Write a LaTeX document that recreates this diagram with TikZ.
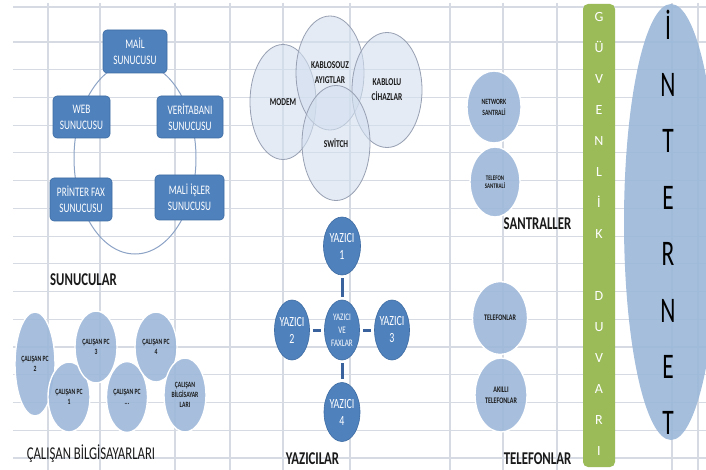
\documentclass[tikz,border=0pt]{standalone}
\usepackage{fontspec}
\newfontfamily\cf{Carlito}[FakeStretch=0.71]
\newfontfamily\cfi{Carlito}[FakeStretch=0.65]
\newfontfamily\cfg{Carlito}
\usetikzlibrary{shapes.geometric}
\definecolor{gridc}{HTML}{D5DAE3}
\definecolor{boxblue}{HTML}{4F81BD}
\definecolor{boxedge}{HTML}{3E6CA3}
\definecolor{ringc}{HTML}{8CA3C6}
\definecolor{lightblue}{HTML}{9BB7D9}
\definecolor{vennfill}{HTML}{D3DFEF}
\definecolor{vennedge}{HTML}{98A1B3}
\definecolor{fwgreen}{HTML}{9BBB59}
\definecolor{linkc}{HTML}{3A629C}
\definecolor{txt}{HTML}{1A1A1A}
\begin{document}
\begin{tikzpicture}[x=1pt,y=-1pt,
 gridline/.style={draw=gridc, line width=1.1pt},
 srvbox/.style={rectangle, rounded corners=4pt, fill=boxblue, draw=boxedge, line width=0.6pt, text=white, align=center, inner sep=0pt, font=\cf\fontsize{13}{16}\selectfont},
 ring/.style={draw=ringc, line width=1pt},
 pcell/.style={ellipse, fill=lightblue, fill opacity=0.88, text opacity=1, draw=white, line width=1.4pt, inner sep=0pt, align=center, text=txt, font=\cf\bfseries\fontsize{8}{10}\selectfont},
 venn/.style={ellipse, fill=vennfill, fill opacity=0.6, text opacity=1, draw=vennedge, line width=0.8pt, inner sep=0pt, align=center, text=txt, font=\cf\bfseries\fontsize{10.5}{15}\selectfont},
 prn/.style={ellipse, fill=boxblue, draw=boxedge, line width=0.6pt, inner sep=-2pt, align=center, text=white},
 link/.style={draw=linkc, line width=3pt, shorten >=3pt, shorten <=3pt},
 grouplabel/.style={text=txt, inner sep=0pt, font=\cf\bfseries\fontsize{18}{18}\selectfont},
 fwletter/.style={text=white, inner sep=0pt, anchor=base, font=\cfg\fontsize{14}{14}\selectfont},
 netletter/.style={text=black, inner sep=0pt, anchor=base, font=\cfi\fontsize{36}{36}\selectfont},
]
\useasboundingbox (0,0) rectangle (706,470);
\clip (0,0) rectangle (706,470);
\fill[white] (0,0) rectangle (706,470);
% grid
\draw[gridline] (13,7) -- (706,7);
\foreach \k in {0,...,15} \draw[gridline] (13,{42+27.73*\k}) -- (706,{42+27.73*\k});
\foreach \x in {48,100,175,230,283,350,450,503,557,672,698} \draw[gridline] (\x,3) -- (\x,470);

% servers
\draw[ring] (135,158) ellipse [x radius=61, y radius=96];
\node[srvbox, minimum width=64pt, minimum height=43pt] (mail) at (135,51.5) {MAİL\\SUNUCUSU};
\node[srvbox, minimum width=57pt, minimum height=42pt] (web) at (81.5,117) {WEB\\SUNUCUSU};
\node[srvbox, minimum width=66pt, minimum height=42pt] (db) at (190,117) {VERİTABANI\\SUNUCUSU};
\node[srvbox, minimum width=62pt, minimum height=43pt] (fax) at (81,199.5) {PRİNTER FAX\\SUNUCUSU};
\node[srvbox, minimum width=69pt, minimum height=45pt] (fin) at (189.5,197.5) {MALİ İŞLER\\SUNUCUSU};
\node[grouplabel] (lsrv) at (83.5,280) {SUNUCULAR};

% employee PCs
\node[pcell, minimum width=40pt, minimum height=104pt] (pc2) at (35,364) {ÇALIŞAN PC\\2};
\node[pcell, minimum width=42pt, minimum height=70pt] (pc1) at (69,397) {ÇALIŞAN PC\\1};
\node[pcell, minimum width=42pt, minimum height=72pt] (pc3) at (96,347) {ÇALIŞAN PC\\3};
\node[pcell, minimum width=41pt, minimum height=71pt] (pcn) at (127,397) {ÇALIŞAN PC\\...};
\node[pcell, minimum width=42pt, minimum height=70pt] (pc4) at (156,347) {ÇALIŞAN PC\\4};
\node[pcell, minimum width=42pt, minimum height=74pt] (pcall) at (185,395) {ÇALIŞAN\\BİLGİSAYAR\\LARI};
\node[grouplabel, font=\cf\fontsize{18}{18}\selectfont] (lpc) at (91,454) {ÇALIŞAN BİLGİSAYARLARI};

% network venn
\node[venn, minimum width=66pt, minimum height=115pt] (modem) at (283,102) {MODEM};
\node[venn, minimum width=68pt, minimum height=114pt] (wifi) at (330,73) {KABLOSOUZ\\AYIGTLAR};
\node[venn, minimum width=70pt, minimum height=115pt] (wired) at (387,90) {KABLOLU\\CİHAZLAR};
\node[venn, minimum width=68pt, minimum height=115pt] (switch) at (336,143) {SWİTCH};

% printers
\node[prn, minimum width=37pt, minimum height=58pt, font=\cf\fontsize{14}{17}\selectfont] (p1) at (342,246) {YAZICI\\1};
\node[prn, minimum width=35pt, minimum height=60pt, font=\cf\fontsize{10}{13}\selectfont] (pc) at (342,330) {YAZICI\\VE\\FAXLAR};
\node[prn, minimum width=35pt, minimum height=60pt, font=\cf\fontsize{14}{17}\selectfont] (p2) at (292,330) {YAZICI\\2};
\node[prn, minimum width=35pt, minimum height=60pt, font=\cf\fontsize{14}{17}\selectfont] (p3) at (392,330) {YAZICI\\3};
\node[prn, minimum width=36pt, minimum height=59pt, font=\cf\fontsize{14}{17}\selectfont] (p4) at (342,412) {YAZICI\\4};
\draw[link] (p1) -- (pc);
\draw[link] (p2) -- (pc);
\draw[link] (p3) -- (pc);
\draw[link] (p4) -- (pc);
\node[grouplabel] (lprn) at (312.5,459) {YAZICILAR};

% switchboards
\node[pcell, minimum width=54pt, minimum height=72pt, font=\cf\bfseries\fontsize{8}{11}\selectfont] (netsw) at (494,107) {NETWORK\\SANTRALİ};
\node[pcell, minimum width=50pt, minimum height=70pt, font=\cf\bfseries\fontsize{7}{8.5}\selectfont] (telsw) at (495,182) {TELEFON\\SANTRALİ};
\node[grouplabel] (lsw) at (537.5,224) {SANTRALLER};

% phones
\node[pcell, minimum width=55pt, minimum height=73pt, font=\cf\bfseries\fontsize{8.5}{11}\selectfont] (tel) at (500,318) {TELEFONLAR};
\node[pcell, minimum width=52pt, minimum height=74pt, font=\cf\bfseries\fontsize{8.5}{11}\selectfont] (smart) at (501,395) {AKILLI\\TELEFONLAR};
\node[grouplabel] (ltel) at (537.5,458.5) {TELEFONLAR};

% firewall
\node[rectangle, rounded corners=5pt, fill=fwgreen, minimum width=32pt, minimum height=463pt, inner sep=0pt] (fw) at (599,235.5) {};
\foreach \l [count=\i from 0] in {G,Ü,V,E,N,L,İ,K}
  \node[fwletter] (fwa\i) at (599,{21.5+31*\i}) {\l};
\foreach \l [count=\i from 0] in {D,U,V,A,R,I}
  \node[fwletter] (fwb\i) at (599,{300.5+31*\i}) {\l};

% internet
\node[ellipse, fill=lightblue, fill opacity=0.9, minimum width=94pt, minimum height=436pt, inner sep=0pt] (inet) at (671,222) {};
\foreach \l [count=\i from 0] in {İ,N,T,E,R,N,E,T}
  \node[netletter] (in\i) at (668,{40+56.4*\i}) {\l};
\end{tikzpicture}
\end{document}
